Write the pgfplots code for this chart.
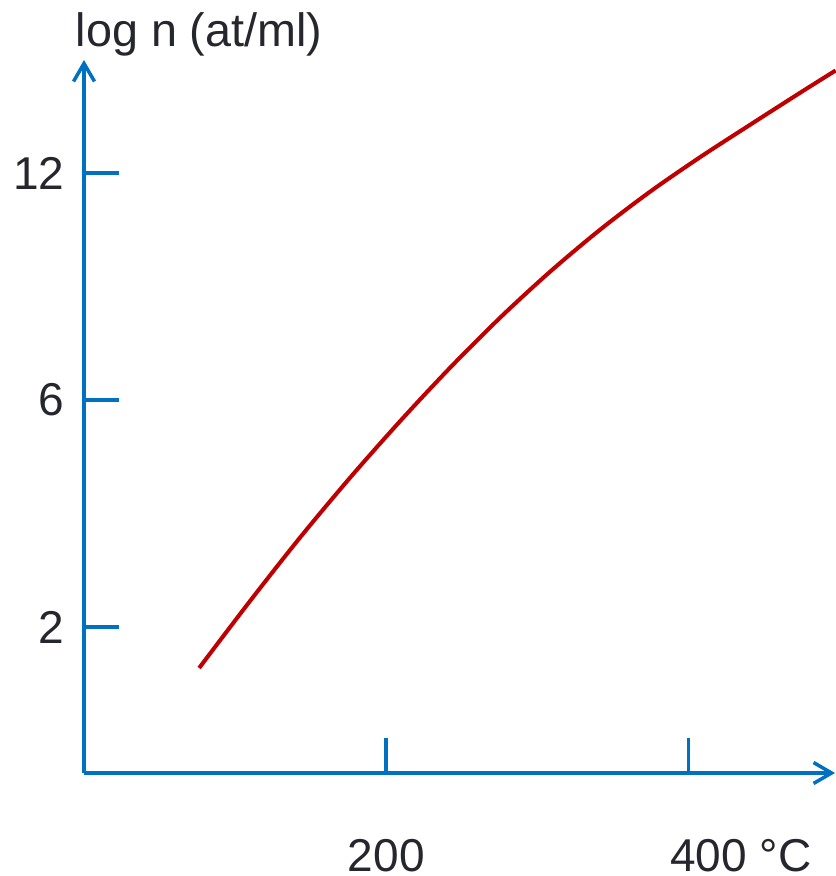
\documentclass[border=0pt]{standalone}
\usepackage{pgfplots}
\pgfplotsset{compat=1.18}
\usetikzlibrary{arrows.meta}
\usepackage{fontspec}
\setmainfont{Liberation Sans}
\definecolor{axblue}{HTML}{0070C0}
\definecolor{curvered}{HTML}{C00000}
\definecolor{txt}{HTML}{26262E}
\begin{document}
\begin{tikzpicture}
\begin{axis}[
  scale only axis,
  width=75.1mm, height=71.3mm,
  xmin=0, xmax=497, ymin=0, ymax=713,
  axis lines=left,
  axis line style={axblue, line width=1pt, -{Straight Barb[length=1.8mm,width=2.1mm,line width=1pt]}},
  tick style={axblue, line width=1.1pt},
  tick align=inside,
  major tick length=3.5mm,
  xtick={200,400},
  xticklabels={200,{\hspace*{4mm}400\rlap{\ °C}}},
  ytick={146,373,600},
  yticklabels={2,6,12},
  font=\fontsize{13.1}{15}\selectfont,
  tick label style={text=txt, inner sep=0pt},
  xticklabel style={anchor=base, yshift=-9.8mm},
  yticklabel style={anchor=east, xshift=-1.9mm},
  clip=false,
]
\addplot[curvered, line width=1.15pt, smooth] coordinates {
(76.2,105) (109.9,172) (143.0,235.5) (176.2,295.5) (209.3,352)
(242.4,405.5) (275.5,455.5) (308.6,501.5) (341.7,543.5) (374.8,581.5)
(407.9,616) (441.1,648.5) (474.2,680.5) (497.4,702.5)
};
\coordinate (O) at (axis cs:0,0);
\node[anchor=base west, inner sep=0pt, text=txt, font=\fontsize{13.3}{15}\selectfont] at ([xshift=-0.9mm,yshift=1.3mm]axis cs:0,713) {log n (at/ml)};
\end{axis}
\pgfresetboundingbox
\path (O) ++(-8.4mm,-10.3mm) rectangle ++(83.5mm,87.6mm);
\end{tikzpicture}
\end{document}
